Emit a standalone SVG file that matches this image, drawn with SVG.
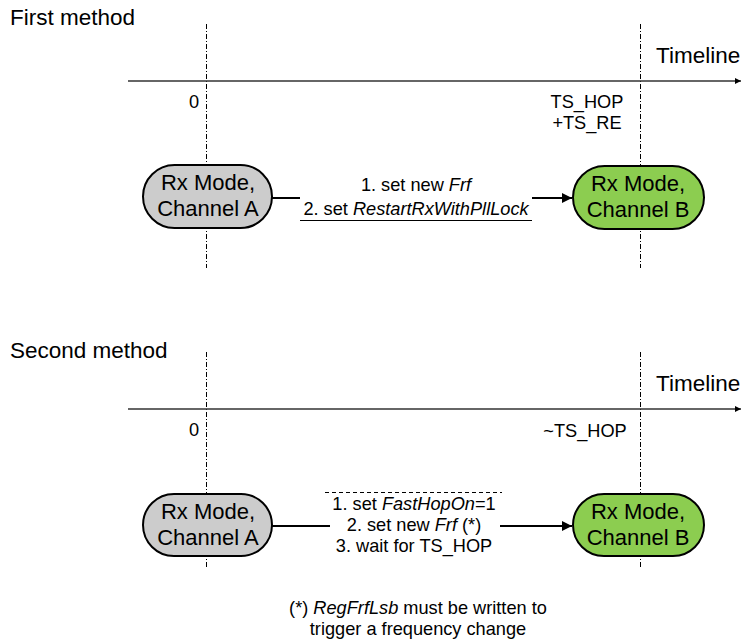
<svg xmlns="http://www.w3.org/2000/svg" width="742" height="643" viewBox="0 0 742 643">
<style>
text{font-family:"Liberation Sans",Arial,sans-serif;fill:#000}
.t{font-size:22.5px}
.n{font-size:22px;text-anchor:middle}
.l{font-size:18.2px;text-anchor:middle}
.v{stroke:#000;stroke-width:1;stroke-dasharray:5 2 1 2;fill:none}
.tl{stroke:#333;stroke-width:1.3;fill:none}
.c{stroke:#000;stroke-width:2;fill:none}
.a{fill:#cccccc;stroke:#000;stroke-width:2}
.b{fill:#8ccd50;stroke:#000;stroke-width:2}
</style>
<defs>
<marker id="ah" viewBox="0 0 10 10" refX="10" refY="5" markerWidth="5" markerHeight="5" orient="auto" markerUnits="strokeWidth"><path d="M0,0L10,5L0,10z" fill="#000"/></marker>
<marker id="th" viewBox="0 0 10 10" refX="10" refY="5" markerWidth="6" markerHeight="8" orient="auto" markerUnits="userSpaceOnUse"><path d="M0,0L10,5L0,10z" fill="#000"/></marker>
</defs>

<g id="section1">
<text class="t" x="10" y="25">First method</text>
<line class="v" x1="206.5" y1="24" x2="206.5" y2="268"/>
<line class="v" x1="640.5" y1="24" x2="640.5" y2="268"/>
<line class="tl" x1="128" y1="81" x2="741" y2="81" marker-end="url(#th)"/>
<text class="t" x="656" y="63">Timeline</text>
<text class="l" x="194" y="108">0</text>
<text class="l" x="587" y="108">TS_HOP</text>
<text class="l" x="587" y="129">+TS_RE</text>
</g>

<g id="node-a1">
<rect class="a" x="143" y="165" width="129" height="63" rx="31.5"/>
<text class="n" x="208" y="190">Rx Mode,</text>
<text class="n" x="208" y="216">Channel A</text>
</g>
<g id="node-b1">
<rect class="b" x="573" y="166" width="131" height="63" rx="31.5"/>
<text class="n" x="638" y="191">Rx Mode,</text>
<text class="n" x="638" y="217">Channel B</text>
</g>

<g id="section2">
<text class="t" x="10" y="358">Second method</text>
<line class="v" x1="206.5" y1="352" x2="206.5" y2="568"/>
<line class="v" x1="640.5" y1="352" x2="640.5" y2="568"/>
<line class="tl" x1="128" y1="409" x2="741" y2="409" marker-end="url(#th)"/>
<text class="t" x="656" y="391">Timeline</text>
<text class="l" x="194" y="436">0</text>
<text class="l" x="585" y="437">~TS_HOP</text>
</g>

<g id="node-a2">
<rect class="a" x="143" y="494" width="129" height="62" rx="31"/>
<text class="n" x="208" y="519">Rx Mode,</text>
<text class="n" x="208" y="545">Channel A</text>
</g>
<g id="node-b2">
<rect class="b" x="573" y="494" width="131" height="62" rx="31"/>
<text class="n" x="638" y="519">Rx Mode,</text>
<text class="n" x="638" y="545">Channel B</text>
</g>

<g id="connectors">
<line class="c" x1="272" y1="198" x2="300" y2="198"/>
<line x1="300" y1="220.5" x2="532" y2="220.5" stroke="#000" stroke-width="1"/>
<line class="c" x1="532" y1="198" x2="572" y2="198" marker-end="url(#ah)"/>
<line class="c" x1="272" y1="526" x2="330" y2="526"/>
<line x1="325" y1="492.5" x2="502" y2="492.5" stroke="#000" stroke-width="1" stroke-dasharray="4 3"/>
<line class="c" x1="500" y1="526" x2="572" y2="526" marker-end="url(#ah)"/>
</g>

<g id="labels">
<text class="l" x="416" y="191">1. set new <tspan font-style="italic">Frf</tspan></text>
<text class="l" x="416" y="215">2. set <tspan font-style="italic">RestartRxWithPllLock</tspan></text>
<text class="l" x="414" y="510">1. set <tspan font-style="italic">FastHopOn</tspan>=1</text>
<text class="l" x="414" y="531">2. set new <tspan font-style="italic">Frf</tspan> (*)</text>
<text class="l" x="414" y="552">3. wait for TS_HOP</text>
<text class="l" x="418" y="614">(*) <tspan font-style="italic">RegFrfLsb</tspan> must be written to</text>
<text class="l" x="418" y="635">trigger a frequency change</text>
</g>
</svg>
